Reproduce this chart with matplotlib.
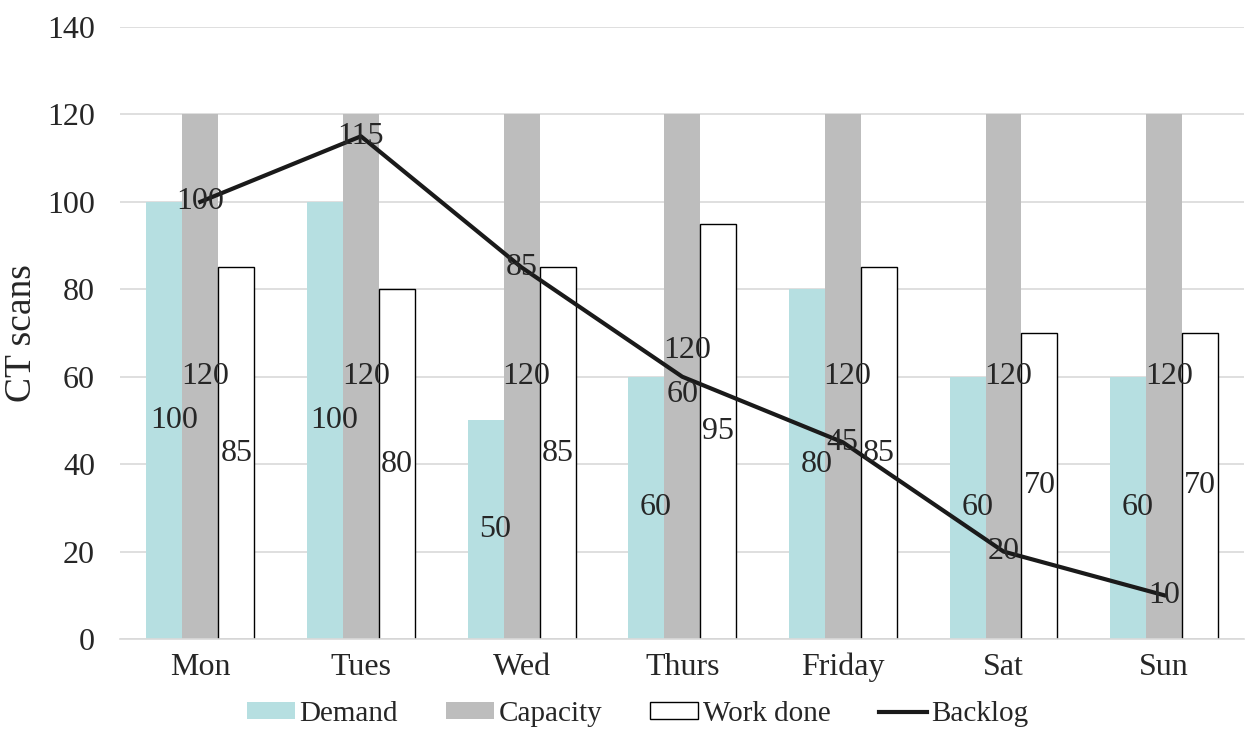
import matplotlib
matplotlib.use("Agg")
import matplotlib.pyplot as plt
from matplotlib.patches import Patch
from matplotlib.lines import Line2D
import numpy as np

days = ["Mon", "Tues", "Wed", "Thurs", "Friday", "Sat", "Sun"]
demand = [100, 100, 50, 60, 80, 60, 60]
capacity = [120, 120, 120, 120, 120, 120, 120]
work_done = [85, 80, 85, 95, 85, 70, 70]
backlog = [100, 115, 85, 60, 45, 20, 10]
y_ticks = [0, 20, 40, 60, 80, 100, 120, 140]

plt.rcParams["font.family"] = ["Liberation Serif", "DejaVu Serif"]

demand_col = "#b6dfe1"
capacity_col = "#bdbdbd"
text_col = "#262626"

fig = plt.figure(figsize=(12.55, 7.3), dpi=100)
ax = fig.add_axes([0.0956, 0.1247, 0.896, 0.8383])

x = np.arange(len(days))
w = 0.224

ax.bar(x - w, demand, w, color=demand_col, zorder=2)
ax.bar(x, capacity, w, color=capacity_col, zorder=2)
ax.bar(x + w, work_done, w, color="white", edgecolor="black",
       linewidth=1.0, zorder=2)
ax.plot(x, backlog, color="#1a1a1a", linewidth=3, zorder=4,
        solid_joinstyle="round")

fs = 23
# labels in the middle of each bar
for i in range(len(days)):
    ax.text(x[i] - w + 0.06, demand[i] / 2, str(demand[i]), ha="center",
            va="center", fontsize=fs, color=text_col, zorder=5)
    cy = capacity[i] / 2 + (6 if days[i] == "Thurs" else 0)
    ax.text(x[i] + 0.03, cy, str(capacity[i]), ha="center", va="center",
            fontsize=fs, color=text_col, zorder=5)
    ax.text(x[i] + w, work_done[i] / 2, str(work_done[i]), ha="center",
            va="center", fontsize=fs, color=text_col, zorder=5)
    by = backlog[i] - (4 if days[i] == "Thurs" else 0)
    ax.text(x[i], by, str(backlog[i]), ha="center", va="center",
            fontsize=fs, color=text_col, zorder=5)

ax.set_xlim(-0.5, len(days) - 0.5)
ax.set_ylim(0, 140)
ax.set_yticks(y_ticks)
ax.set_xticks(x)
ax.set_xticklabels(days)
ax.tick_params(axis="both", length=0, labelsize=23, colors=text_col)
ax.tick_params(axis="y", pad=18)
ax.tick_params(axis="x", pad=10)
ax.grid(axis="y", color="#d9d9d9", linewidth=1.2, zorder=0)
ax.set_axisbelow(True)
for s in ["top", "right", "left"]:
    ax.spines[s].set_visible(False)
ax.spines["bottom"].set_color("#d9d9d9")
ax.spines["bottom"].set_linewidth(1.2)
ax.set_ylabel("CT scans", fontsize=27, color=text_col, labelpad=6)

handles = [
    Patch(facecolor=demand_col, edgecolor="none", label="Demand"),
    Patch(facecolor=capacity_col, edgecolor="none", label="Capacity"),
    Patch(facecolor="white", edgecolor="black", linewidth=1.0, label="Work done"),
    Line2D([0], [0], color="#1a1a1a", linewidth=3, label="Backlog"),
]
fig.legend(handles=handles, loc="center", bbox_to_anchor=(0.508, 0.022),
           ncol=4, frameon=False, fontsize=21, handlelength=1.65,
           handleheight=0.5, handletextpad=0.15, columnspacing=1.65,
           labelcolor=text_col)

fig.savefig("out.png", dpi=100)
